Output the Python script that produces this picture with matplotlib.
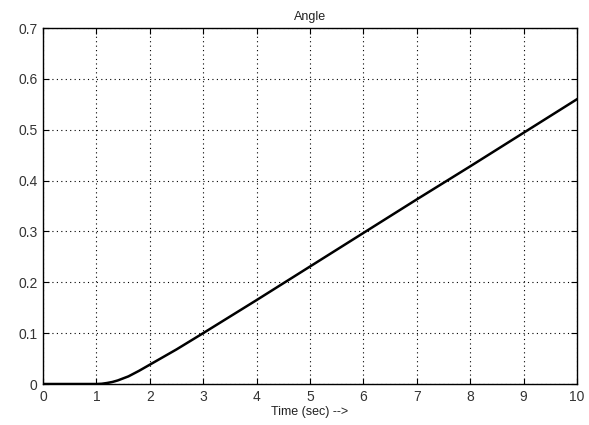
import matplotlib.pyplot as plt

# data
time_s = [0, 1.0, 1.1, 1.2, 1.3, 1.4, 1.5, 1.6, 1.8, 2.0, 2.5, 3, 4, 5, 6, 7, 8, 9, 10]
angle = [0, 0, 0.0005, 0.002, 0.004, 0.007, 0.011, 0.015, 0.026, 0.038, 0.068,
         0.1, 0.165, 0.231, 0.297, 0.363, 0.428, 0.494, 0.56]
xticks = list(range(0, 11))
yticks = [0, 0.1, 0.2, 0.3, 0.4, 0.5, 0.6, 0.7]

plt.rcParams['font.family'] = ['Liberation Sans', 'DejaVu Sans']

fig = plt.figure(figsize=(5.89, 4.25), dpi=100)
ax = fig.add_axes([43 / 589, 41 / 425, 534 / 589, 356 / 425])

ax.plot(time_s, angle, color='black', linewidth=1.8)

ax.set_xlim(0, 10)
ax.set_ylim(0, 0.7)
ax.set_xticks(xticks)
ax.set_yticks(yticks)
ax.set_xticklabels([str(t) for t in xticks])
ax.set_yticklabels(['0', '0.1', '0.2', '0.3', '0.4', '0.5', '0.6', '0.7'])
ax.tick_params(direction='in', length=4, labelsize=10, colors='black',
               labelcolor='#333333', top=True, right=True, pad=4)
ax.grid(True, linestyle=(0, (1, 3)), color='black', linewidth=0.8)
for s in ax.spines.values():
    s.set_linewidth(1)

ax.set_title('Angle', fontsize=9, pad=6, color='#222222')
ax.set_xlabel('Time (sec) -->', fontsize=9, labelpad=2, color='#222222')

fig.savefig('out.png', dpi=100)
